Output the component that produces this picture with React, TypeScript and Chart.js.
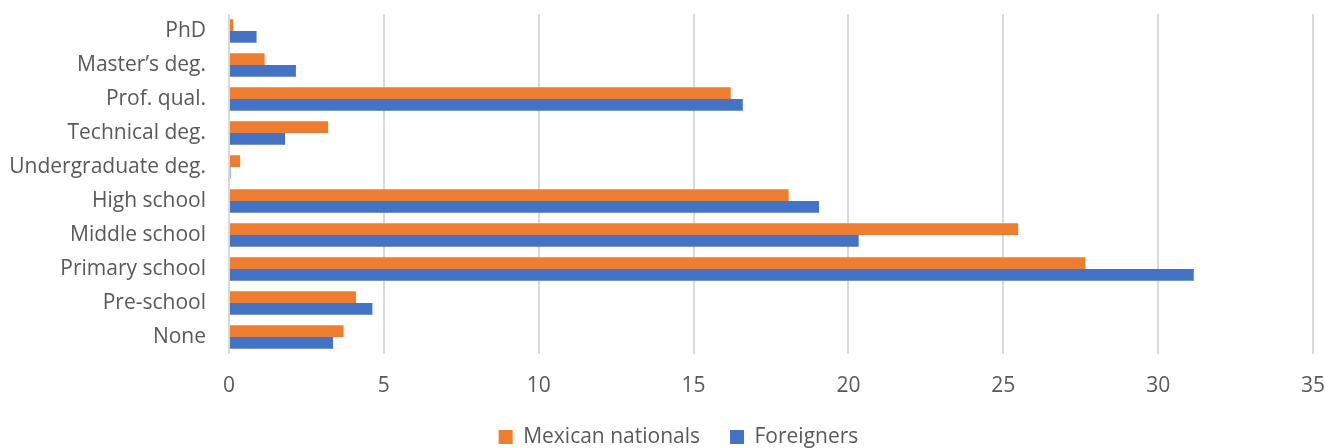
import React, { useEffect, useRef } from "react";
import { Chart, registerables } from "chart.js";

Chart.register(...registerables);

const categories = [
  "PhD",
  "Master\u2019s deg.",
  "Prof. qual.",
  "Technical deg.",
  "Undergraduate deg.",
  "High school",
  "Middle school",
  "Primary school",
  "Pre-school",
  "None",
];

const mexicanNationals = [0.14, 1.15, 16.2, 3.2, 0.36, 18.07, 25.48, 27.65, 4.1, 3.7];
const foreigners = [0.89, 2.16, 16.59, 1.81, 0.05, 19.05, 20.33, 31.15, 4.63, 3.36];

const xTicks = { min: 0, max: 35, step: 5 };

const FONT = "Open Sans";
const FS = 21;
const TEXT = "#595959";

const legendShift = {
  id: "legendShift",
  afterLayout(chart: any) {
    const l = chart.legend;
    if (l) {
      l.left += 22;
      l.right += 22;
    }
  },
};

export default function App() {
  const ref = useRef<HTMLCanvasElement | null>(null);

  useEffect(() => {
    if (!ref.current) return;
    const chart = new Chart(ref.current, {
      type: "bar",
      data: {
        labels: categories,
        datasets: [
          {
            label: "Mexican nationals",
            data: mexicanNationals,
            backgroundColor: "#ED7D31",
            barPercentage: 1,
            categoryPercentage: 0.69,
          },
          {
            label: "Foreigners",
            data: foreigners,
            backgroundColor: "#4472C4",
            barPercentage: 1,
            categoryPercentage: 0.69,
          },
        ],
      },
      plugins: [legendShift],
      options: {
        indexAxis: "y",
        responsive: false,
        animation: false,
        layout: { padding: { top: 14, left: 0, right: 12, bottom: -9.5 } },
        plugins: {
          tooltip: { enabled: false },
          legend: {
            position: "bottom",
            labels: {
              boxWidth: 14,
              boxHeight: 14,
              padding: 30,
              color: TEXT,
              font: { family: FONT, size: FS },
            },
          },
        },
        scales: {
          x: {
            min: xTicks.min,
            max: xTicks.max,
            ticks: { stepSize: xTicks.step, color: TEXT, padding: 19, font: { family: FONT, size: FS } },
            grid: { color: "#d9d9d9", lineWidth: 2, drawTicks: false },
            border: { display: false },
            afterFit: (s: any) => {
              s.height = 42.5;
              s.paddingLeft = 0;
              s.paddingRight = 0;
            },
          },
          y: {
            ticks: { color: TEXT, padding: 23, font: { family: FONT, size: FS } },
            grid: { display: false, drawTicks: false },
            border: { display: false },
            afterFit: (s: any) => {
              s.width = 229;
              s.paddingTop = 0;
              s.paddingBottom = 0;
            },
          },
        },
      },
    });
    return () => chart.destroy();
  }, []);

  return (
    <div style={{ position: "fixed", left: 0, top: 0, width: 1325, height: 448, background: "#fff" }}>
      <canvas ref={ref} width={1325} height={448} />
    </div>
  );
}
